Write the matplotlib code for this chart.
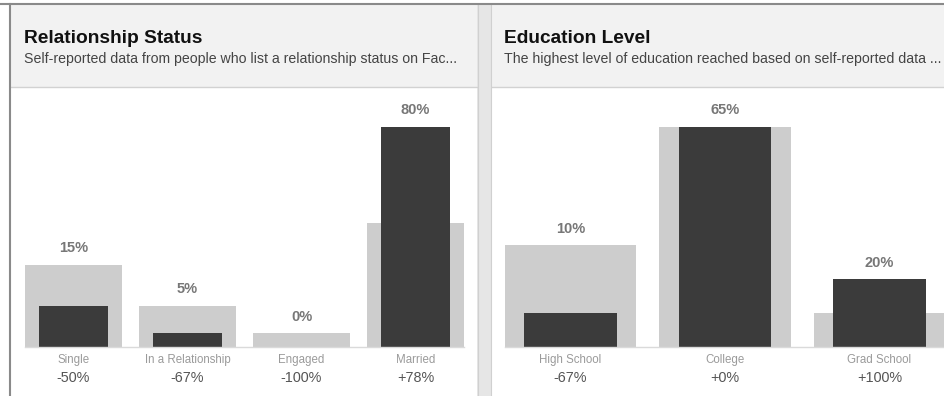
import matplotlib
matplotlib.use("Agg")
import matplotlib.pyplot as plt
from matplotlib.patches import Rectangle
from matplotlib.lines import Line2D

plt.rcParams['font.family'] = ['Liberation Sans', 'DejaVu Sans']

# ---- data ----
rel_title = "Relationship Status"
rel_sub = "Self-reported data from people who list a relationship status on Fac..."
rel_cats = ["Single", "In a Relationship", "Engaged", "Married"]
rel_audience = [15, 5, 0, 80]
rel_baseline = [30, 15, 5, 45]
rel_change = ["-50%", "-67%", "-100%", "+78%"]

edu_title = "Education Level"
edu_sub = "The highest level of education reached based on self-reported data ..."
edu_cats = ["High School", "College", "Grad School"]
edu_audience = [10, 65, 20]
edu_baseline = [30, 65, 10]
edu_change = ["-67%", "+0%", "+100%"]

W, H = 945, 396
fig = plt.figure(figsize=(W / 100, H / 100), dpi=100)
fig.patch.set_facecolor("white")

def fx(x):
    return x / W

def fy(y):
    return 1 - y / H

def rect(x0, y0, x1, y1, color, z=0, ec="none", lw=0):
    fig.add_artist(Rectangle((fx(x0), fy(y1)), fx(x1) - fx(x0), fy(y0) - fy(y1),
                             transform=fig.transFigure, facecolor=color,
                             edgecolor=ec, linewidth=lw, zorder=z))

def hline(x0, x1, y, color, lw=1, z=1):
    fig.add_artist(Line2D([fx(x0), fx(x1)], [fy(y), fy(y)], transform=fig.transFigure,
                          color=color, linewidth=lw, zorder=z))

def vline(x, y0, y1, color, lw=1, z=1):
    fig.add_artist(Line2D([fx(x), fx(x)], [fy(y0), fy(y1)], transform=fig.transFigure,
                          color=color, linewidth=lw, zorder=z))

# panels
rect(10, 4, 477, H, "white")
rect(492, 4, W, H, "white")
rect(10, 5, 477, 87, "#f2f2f2")
rect(492, 5, W, 87, "#f2f2f2")
hline(10, 477, 87, "#d2d2d2", lw=1)
hline(492, W, 87, "#d2d2d2", lw=1)
# divider strip
rect(477, 4, 492, H, "#e6e6e6")
vline(477.5, 4, H, "#d0d0d0", lw=0.8)
vline(491.5, 4, H, "#d0d0d0", lw=0.8)
# outer borders
hline(0, W, 4, "#8a8a8a", lw=1.5, z=3)
vline(10, 4, H, "#8a8a8a", lw=1.5, z=3)

# titles
fig.text(fx(24), fy(43), rel_title, fontsize=13.8, fontweight="bold", color="#111111",
         ha="left", va="baseline")
fig.text(fx(24), fy(63), rel_sub, fontsize=10.2, color="#444444", ha="left", va="baseline")
fig.text(fx(504), fy(43), edu_title, fontsize=13.8, fontweight="bold", color="#111111",
         ha="left", va="baseline")
fig.text(fx(504), fy(63), edu_sub, fontsize=10.2, color="#444444", ha="left", va="baseline")


def panel(center0, spacing, cats, aud, base, change):
    n = len(cats)
    base_y, top_y, ax_top = 347, 127, 95
    left = center0 - spacing / 2
    right = left + spacing * n
    ax = fig.add_axes([fx(left), fy(base_y), fx(right) - fx(left), fy(ax_top) - fy(base_y)])
    ax.set_facecolor("none")
    vmax = max(max(aud), max(base))
    ax.set_ylim(0, vmax * (base_y - ax_top) / (base_y - top_y))
    ax.set_xlim(-0.5, n - 0.5)
    ax.axis("off")
    xs = list(range(n))
    ax.bar(xs, base, width=0.85, color="#cdcdcd", zorder=1, clip_on=False)
    ax.bar(xs, aud, width=0.6, color="#3b3b3b", zorder=2, clip_on=False)
    ax.plot([-0.425, n - 1 + 0.425], [0, 0], color="#dadada", lw=1, zorder=3,
            clip_on=False)
    for i in xs:
        top = max(aud[i], base[i])
        ax.annotate(f"{aud[i]}%", (i, top), xytext=(0, 7), textcoords="offset points",
                    ha="center", va="bottom", fontsize=10.5, fontweight="bold",
                    color="#777777", annotation_clip=False)
        ax.annotate(cats[i], (i, 0), xytext=(0, -9.5), textcoords="offset points",
                    ha="center", va="center", fontsize=8.3, color="#9a9a9a",
                    annotation_clip=False)
        ax.annotate(change[i], (i, 0), xytext=(0, -22), textcoords="offset points",
                    ha="center", va="center", fontsize=10.4, color="#555555",
                    annotation_clip=False)
    return ax

panel(73.5, 114.0, rel_cats, rel_audience, rel_baseline, rel_change)
panel(570.5, 154.5, edu_cats, edu_audience, edu_baseline, edu_change)

fig.savefig("out.png", dpi=100, facecolor="white")
